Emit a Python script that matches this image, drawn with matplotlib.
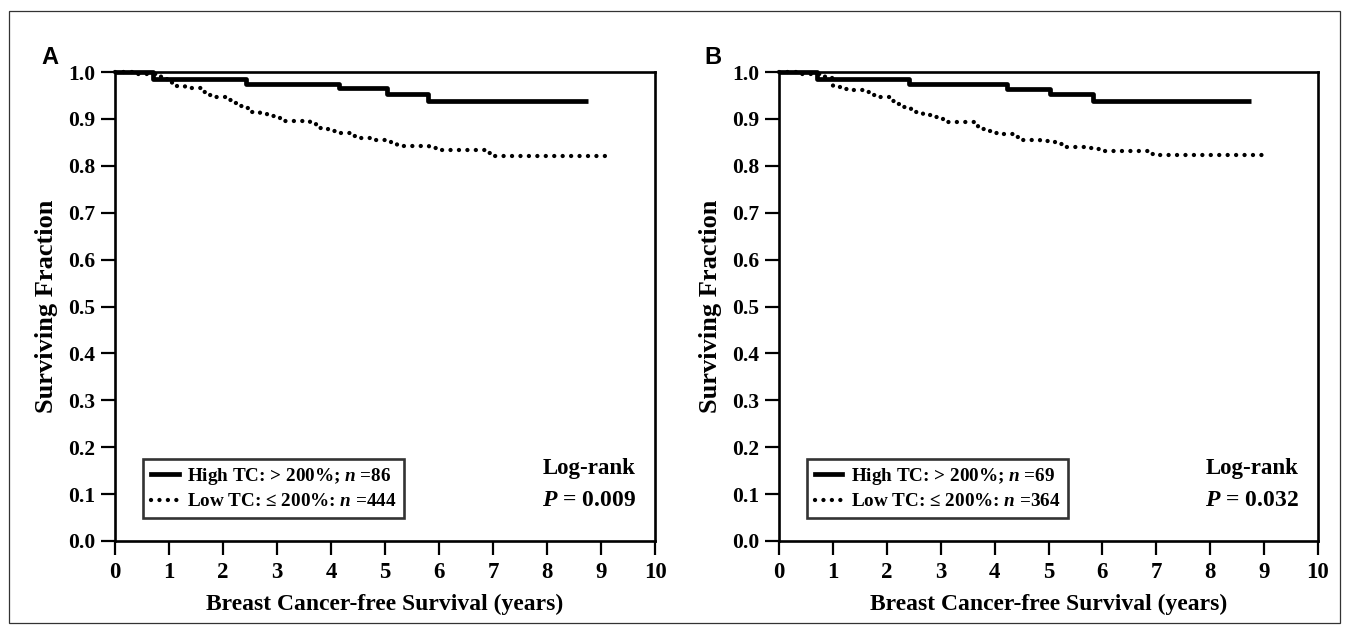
import matplotlib
matplotlib.use("Agg")
import matplotlib.pyplot as plt
from matplotlib.lines import Line2D
from matplotlib.patches import Rectangle

plt.rcParams['font.family'] = ['Liberation Serif', 'DejaVu Serif']
plt.rcParams['font.weight'] = 'bold'
plt.rcParams['mathtext.fontset'] = 'custom'
plt.rcParams['mathtext.it'] = 'Liberation Serif:bold:italic'
plt.rcParams['mathtext.rm'] = 'Liberation Serif:bold'

# ---- data ----
panel_labels = ["A", "B"]

high_a_t = [0, 0.70, 2.43, 4.15, 5.04, 5.80, 8.75]
high_a_s = [1.0, 0.985, 0.975, 0.965, 0.954, 0.938, 0.938]
low_a_t = [0, 0.40, 0.85, 0.97, 1.05, 1.30, 1.60, 1.72, 1.84, 2.10, 2.20, 2.32, 2.42,
           2.53, 2.68, 2.82, 3.05, 3.62, 3.72, 3.95, 4.10, 4.40, 4.53, 4.82, 5.12,
           5.23, 5.82, 5.97, 6.90, 7.03, 9.07]
low_a_s = [1.0, 0.995, 0.990, 0.979, 0.970, 0.965, 0.958, 0.952, 0.947, 0.940, 0.933,
           0.928, 0.923, 0.915, 0.912, 0.907, 0.896, 0.892, 0.880, 0.874, 0.870, 0.864,
           0.859, 0.854, 0.848, 0.843, 0.837, 0.833, 0.828, 0.821, 0.821]

high_b_t = [0, 0.71, 2.42, 4.23, 5.02, 5.82, 8.75]
high_b_s = [1.0, 0.986, 0.975, 0.964, 0.954, 0.938, 0.938]
low_b_t = [0, 0.42, 0.85, 1.00, 1.15, 1.30, 1.58, 1.70, 1.82, 2.10, 2.20, 2.32, 2.45,
           2.55, 2.68, 2.90, 3.05, 3.70, 3.85, 4.00, 4.12, 4.40, 4.53, 4.85, 5.12,
           5.25, 5.70, 5.85, 6.00, 6.92, 7.05, 9.09]
low_b_s = [1.0, 0.995, 0.988, 0.968, 0.964, 0.962, 0.957, 0.951, 0.946, 0.938, 0.931,
           0.925, 0.918, 0.914, 0.909, 0.905, 0.893, 0.879, 0.875, 0.871, 0.868, 0.861,
           0.856, 0.852, 0.846, 0.841, 0.838, 0.836, 0.831, 0.825, 0.822, 0.822]

legend_high = ["High TC: > 200%; $n$ =86", "High TC: > 200%; $n$ =69"]
legend_low = ["Low TC: \u2264 200%: $n$ =444", "Low TC: \u2264 200%: $n$ =364"]
pvalues = ["$P$ = 0.009", "$P$ = 0.032"]

x_ticks = list(range(0, 11))
y_ticks = [i / 10 for i in range(0, 11)]
x_label = "Breast Cancer-free Survival (years)"
y_label = "Surviving Fraction"

# ---- figure ----
W, H = 1349, 633
fig = plt.figure(figsize=(W / 100, H / 100), dpi=100)

fig.patches.append(Rectangle((9 / W, 10 / H), 1331 / W, 612 / H, transform=fig.transFigure,
                             fill=False, edgecolor='#333333', linewidth=0.9))

axes_px = [(115, 655), (779, 1318)]
top_px, bot_px = 72, 541
datasets = [(high_a_t, high_a_s, low_a_t, low_a_s), (high_b_t, high_b_s, low_b_t, low_b_s)]
label_x_px = [50, 713]
DOT = (0, (0.01, 1.95))

for i, (x0, x1) in enumerate(axes_px):
    ax = fig.add_axes([x0 / W, (H - bot_px) / H, (x1 - x0) / W, (bot_px - top_px) / H])
    ht, hs, lt, ls = datasets[i]
    ax.step(lt, ls, where='post', color='black', lw=3.1,
            linestyle=DOT, dash_capstyle='round', clip_on=False, zorder=3)
    ax.step(ht, hs, where='post', color='black', lw=3.4, clip_on=False, zorder=4,
            solid_capstyle='butt')
    ax.set_xlim(0, 10)
    ax.set_ylim(0, 1.0)
    ax.set_xticks(x_ticks)
    ax.set_yticks(y_ticks)
    ax.set_yticklabels([f"{v:.1f}" for v in y_ticks])
    ax.tick_params(direction='out', length=10, width=1.6, labelsize=15.5, pad=4, color='black')
    ax.tick_params(axis='x', labelsize=16.5, pad=5)
    for sp in ax.spines.values():
        sp.set_linewidth(1.9)
    ax.set_xlabel(x_label, fontsize=17, fontweight='bold')
    ax.set_ylabel(y_label, fontsize=19, fontweight='bold')
    ax.xaxis.set_label_coords(0.5, -0.113)
    ax.yaxis.set_label_coords(-0.105, 0.5)

    handles = [Line2D([], [], color='black', lw=3.4),
               Line2D([], [], color='black', lw=3.1, linestyle=DOT,
                      dash_capstyle='round')]
    leg = ax.legend(handles, [legend_high[i], legend_low[i]], loc='lower left',
                    bbox_to_anchor=(0.052, 0.049), borderaxespad=0,
                    frameon=True, fancybox=False, handlelength=1.45, handletextpad=0.45,
                    borderpad=0.4, labelspacing=0.3, prop={'weight': 'bold', 'size': 13.8})
    leg.get_frame().set_edgecolor('black')
    leg.get_frame().set_linewidth(1.9)

    ax.text(0.878, 0.155, "Log-rank", transform=ax.transAxes, ha='center', va='center',
            fontsize=16.5, fontweight='bold')
    ax.text(0.878, 0.087, pvalues[i], transform=ax.transAxes, ha='center', va='center',
            fontsize=17, fontweight='bold')

    fig.text(label_x_px[i] / W, 1 - 57 / H, panel_labels[i], ha='center', va='center',
             fontsize=17, fontweight='bold', family='Liberation Sans')

fig.savefig("out.png", dpi=100)
